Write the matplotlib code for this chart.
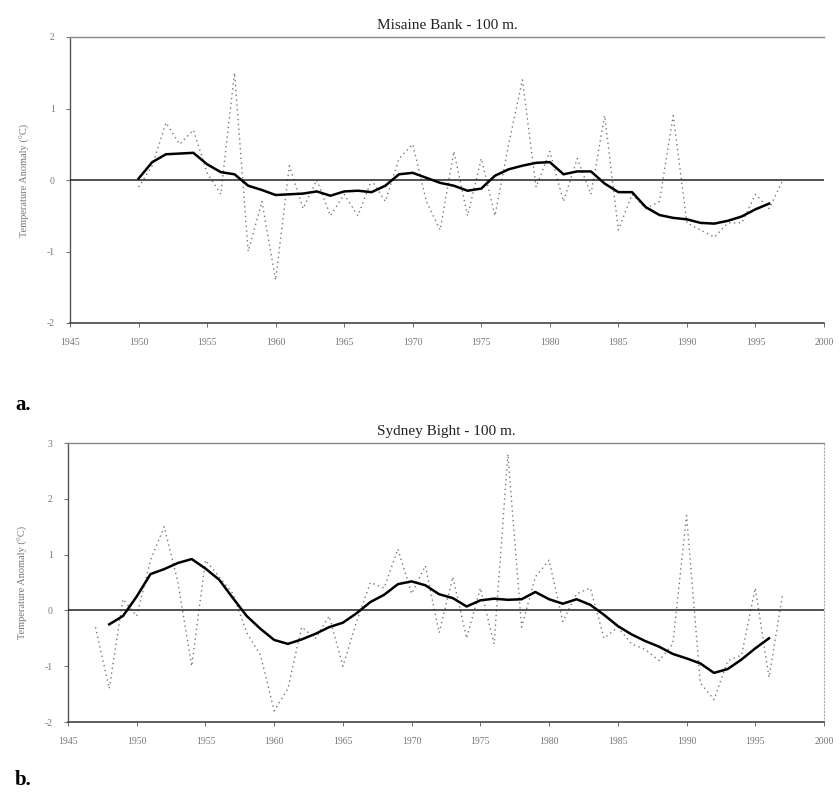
import matplotlib
matplotlib.use("Agg")
import matplotlib.pyplot as plt
import numpy as np

# ---------------- data ----------------
tick_years = [1945, 1950, 1955, 1960, 1965, 1970, 1975, 1980, 1985, 1990, 1995, 2000]

# Panel a: Misaine Bank - 100 m
a_smooth_years = list(range(1950, 1997))
a_smooth = [0.02, 0.25, 0.36, 0.37, 0.38, 0.22, 0.11, 0.08, -0.08, -0.14,
            -0.21, -0.20, -0.19, -0.16, -0.22, -0.16, -0.15, -0.17, -0.08, 0.08,
            0.10, 0.03, -0.04, -0.08, -0.15, -0.12, 0.06, 0.15, 0.20, 0.24,
            0.25, 0.08, 0.12, 0.12, -0.05, -0.17, -0.17, -0.38, -0.49, -0.53,
            -0.55, -0.60, -0.61, -0.57, -0.51, -0.41, -0.33]
a_annual_years = list(range(1950, 1998))
a_annual = [-0.1, 0.2, 0.8, 0.5, 0.7, 0.1, -0.2, 1.5, -1.0, -0.3,
            -1.4, 0.2, -0.4, 0.0, -0.5, -0.2, -0.5, 0.0, -0.3, 0.3,
            0.5, -0.3, -0.7, 0.4, -0.5, 0.3, -0.5, 0.5, 1.4, -0.1,
            0.4, -0.3, 0.3, -0.2, 0.9, -0.7, -0.2, -0.4, -0.3, 0.9,
            -0.6, -0.7, -0.8, -0.6, -0.6, -0.2, -0.4, 0.0]

# Panel b: Sydney Bight - 100 m
b_smooth_years = list(range(1948, 1997))
b_smooth = [-0.25, -0.10, 0.25, 0.65, 0.74, 0.85, 0.92, 0.75, 0.55, 0.22,
            -0.10, -0.33, -0.53, -0.60, -0.52, -0.42, -0.30, -0.22, -0.05, 0.15,
            0.28, 0.47, 0.52, 0.45, 0.29, 0.22, 0.07, 0.18, 0.21, 0.19,
            0.20, 0.33, 0.20, 0.12, 0.20, 0.10, -0.08, -0.28, -0.43, -0.55,
            -0.65, -0.78, -0.86, -0.95, -1.12, -1.05, -0.88, -0.68, -0.50]
b_annual_years = list(range(1947, 1998))
b_annual = [-0.3, -1.4, 0.2, -0.1, 0.9, 1.5, 0.5, -1.0, 0.9, 0.6,
            0.3, -0.4, -0.8, -1.8, -1.4, -0.3, -0.5, -0.1, -1.0, -0.2,
            0.5, 0.4, 1.1, 0.3, 0.8, -0.4, 0.6, -0.5, 0.4, -0.6,
            2.8, -0.3, 0.6, 0.9, -0.2, 0.3, 0.4, -0.5, -0.3, -0.6,
            -0.7, -0.9, -0.6, 1.7, -1.3, -1.6, -0.9, -0.8, 0.4, -1.2, 0.3]

titles = ["Misaine Bank - 100 m.", "Sydney Bight - 100 m."]
ylabel = "Temperature Anomaly (°C)"
panel_labels = ["a.", "b."]

# ---------------- figure ----------------
plt.rcParams['font.family'] = ['Liberation Serif', 'DejaVu Serif']
fig = plt.figure(figsize=(8.4, 7.95), dpi=100)

W, H = 840.0, 795.0
def rect(l, t, r, b):
    return [l / W, 1 - b / H, (r - l) / W, (b - t) / H]

axa = fig.add_axes(rect(70, 37, 824, 323))
axb = fig.add_axes(rect(68, 443, 824, 722))

specs = [
    (axa, a_annual_years, a_annual, a_smooth_years, a_smooth, (-2, 2), [-2, -1, 0, 1, 2]),
    (axb, b_annual_years, b_annual, b_smooth_years, b_smooth, (-2, 3), [-2, -1, 0, 1, 2, 3]),
]

for i, (ax, ay, av, sy, sv, ylim, yt) in enumerate(specs):
    ax.plot(ay, av, linestyle=(0, (1, 2.5)), color='#777777', lw=1.0, zorder=2)
    ax.axhline(0, color='#222222', lw=1.1, zorder=3)
    ax.plot(sy, sv, color='black', lw=1.8, zorder=4)
    ax.set_xlim(1945, 2000)
    ax.set_ylim(*ylim)
    ax.set_xticks(tick_years)
    ax.set_xticklabels([str(t) for t in tick_years], fontsize=7, color='#777777')
    ax.set_yticks(yt)
    ax.set_yticklabels([str(t) for t in yt], fontsize=7, color='#777777')
    ax.tick_params(axis='both', length=3, width=0.6, color='#555555', pad=8)
    ax.spines['top'].set_color('#888888')
    ax.spines['top'].set_linewidth(1.0)
    ax.spines['bottom'].set_color('#444444')
    ax.spines['bottom'].set_linewidth(1.2)
    ax.spines['left'].set_color('#555555')
    ax.spines['left'].set_linestyle((0, (1, 1)))
    ax.spines['left'].set_linewidth(1.0)
    ax.spines['right'].set_color('#aaaaaa')
    ax.spines['right'].set_linestyle((0, (1, 2)))
    ax.spines['right'].set_linewidth(0.8)
    ax.set_ylabel(ylabel, fontsize=7.5, color='#777777', labelpad=12)
    ax.set_title(titles[i], fontsize=11, color='#222222', pad=6)

axa.spines['right'].set_visible(False)

fig.text(15 / W, 1 - 405 / H, panel_labels[0], fontsize=15, fontweight='bold', va='center')
fig.text(15 / W, 1 - 780 / H, panel_labels[1], fontsize=15, fontweight='bold', va='center')

fig.savefig("out.png", dpi=100, facecolor='white')
